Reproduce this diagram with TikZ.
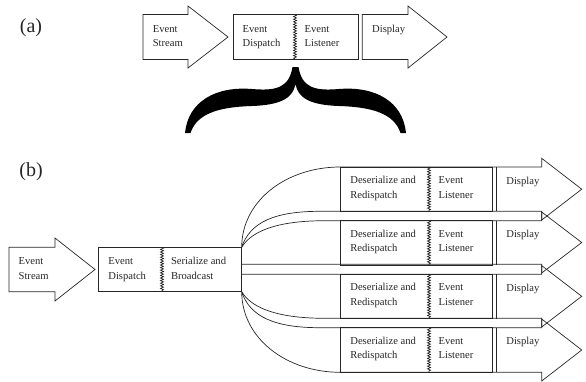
\documentclass[tikz,border=0pt]{standalone}
\usepackage{fontspec}
\setmainfont{Liberation Serif}
\usetikzlibrary{decorations.pathmorphing}
\tikzset{
  lbl/.style={anchor=base west, align=left, inner sep=0pt, font=\fontsize{10.6}{14.5}\selectfont},
  panel/.style={inner sep=0pt, font=\fontsize{20}{24}\selectfont},
  squig/.style={decorate, decoration={snake, amplitude=1.5pt, segment length=2.6pt}},
}
\begin{document}
\begin{tikzpicture}[x=1pt, y=-1pt, line width=0.7pt, color=black!85]
  \useasboundingbox (0,0) rectangle (586,381);
  % ---- (a) ----
  \node[panel] (labA) at (31,28) {(a)};
  % Event Stream arrow
  \draw (143,14.5) -- (188,14.5) -- (188,6) -- (228,37) -- (188,68) -- (188,59.5) -- (143,59.5) -- cycle;
  \node[lbl] (streamA) at (152.5,46.5) {Event\\Stream};
  % dispatch / listener box
  \draw (233,14.5) rectangle (358.3,59.5);
  \draw[squig] (295,14.5) -- (295,59.5);
  \node[lbl] (dispatchA) at (242.3,46.5) {Event\\Dispatch};
  \node[lbl] (listenA) at (304.3,46.5) {Event\\Listener};
  % Display arrow
  \draw (362.3,14.5) -- (408,14.5) -- (408,6) -- (447,37) -- (408,68) -- (408,59.5) -- (362.3,59.5) -- cycle;
  \node[lbl] (showA) at (371.8,32) {Display};
  % brace
  \fill[black] (292.5,67) .. controls (289,88) and (276,91) .. (252,89)
    .. controls (215,86) and (188,102) .. (185,133) -- (190.5,133)
    .. controls (197,113) and (220,107) .. (252,106)
    .. controls (281,105) and (293,98) .. (295.5,84)
    .. controls (298,98) and (310,105) .. (339,106)
    .. controls (371,107) and (394,113) .. (400.5,133) -- (406,133)
    .. controls (403,102) and (376,86) .. (339,89)
    .. controls (315,91) and (302,88) .. (298.5,67) -- cycle;
  % ---- (b) ----
  \node[panel] (labB) at (31,172) {(b)};
  % Event Stream arrow
  \draw (9,247.3) -- (55,247.3) -- (55,238) -- (95,269.5) -- (55,301) -- (55,291.7) -- (9,291.7) -- cycle;
  \node[lbl] (streamB) at (18.3,279.3) {Event\\Stream};
  % dispatch / broadcast box
  \draw (98,247.3) rectangle (241.7,291.7);
  \draw[squig] (162,247.3) -- (162,291.7);
  \node[lbl] (dispatchB) at (108,279.3) {Event\\Dispatch};
  \node[lbl] (castB) at (170.7,279.3) {Serialize and\\Broadcast};
  \coordinate (fanT) at (241.7,247.3);
  \coordinate (fanB) at (241.7,291.7);
  % fan-out channels
  \draw (fanT) .. controls (241.7,201) and (286,167) .. (340.3,167) -- (541.7,167) -- (541.7,158.3)
    -- (581.7,189.2) -- (541.7,220) -- (541.7,211.3) -- (320,211.3)
    .. controls (275,211.3) and (250,222) .. (fanT);
  \draw (fanT) .. controls (252,230) and (280,220.7) .. (325,220.7) -- (541.7,220.7) -- (541.7,212)
    -- (581.7,242.5) -- (541.7,273) -- (541.7,264.3) -- (fanT |- 0,264.3);
  \draw (fanT |- 0,274.3) -- (541.7,274.3) -- (541.7,265.6) -- (581.7,296.3) -- (541.7,327)
    -- (541.7,318.3) -- (325,318.3) .. controls (280,318.3) and (252,309) .. (fanB);
  \draw (fanB) .. controls (250,317) and (275,327.7) .. (320,327.7) -- (541.7,327.7) -- (541.7,319)
    -- (581.7,350) -- (541.7,381) -- (541.7,372.3) -- (340.3,372.3)
    .. controls (286,372.3) and (241.7,338) .. (fanB);
  % receiver boxes
  \foreach \t [count=\i] in {167,220.7,274.3,327.7} {
    \draw (340.3,\t) rectangle (492.3,\t+44.3);
    \draw[squig] (429,\t) -- (429,\t+44.3);
    \draw (496.7,\t) -- (496.7,\t+44.3);
    \node[lbl] (deser\i) at (350,\t+31) {Deserialize and\\Redispatch};
    \node[lbl] (listen\i) at (438.3,\t+31) {Event\\Listener};
    \node[lbl] (show\i) at (506,\t+17) {Display};
  }
\end{tikzpicture}
\end{document}
